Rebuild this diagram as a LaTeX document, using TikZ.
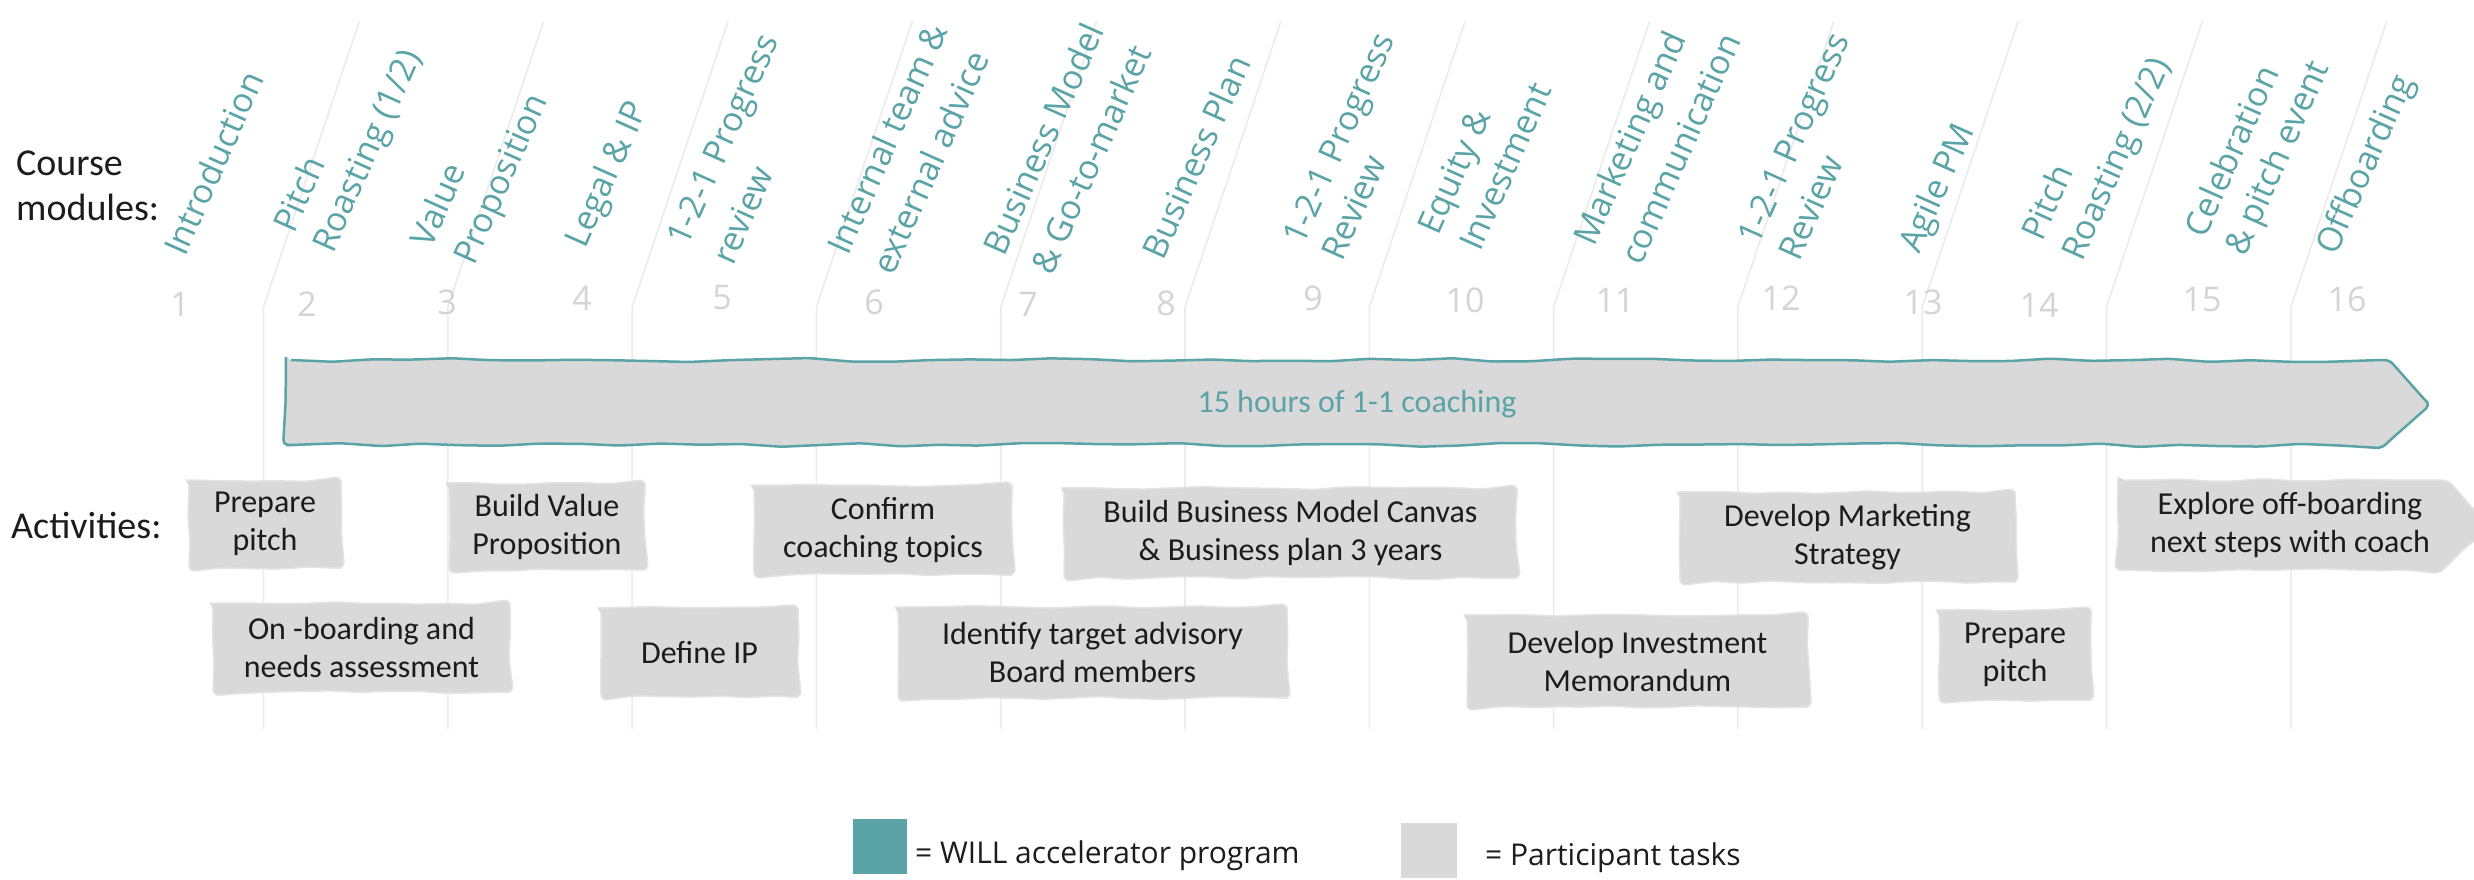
\documentclass[tikz,border=0pt]{standalone}
\usepackage{fontspec}
\setmainfont{Carlito}
\newfontfamily\labelfont{Open Sans}
\usetikzlibrary{decorations.pathmorphing,calc}

\definecolor{willteal}{HTML}{5AA3A6}
\definecolor{taskgrey}{HTML}{D9D9D9}
\definecolor{edgegrey}{HTML}{E4E4E4}
\definecolor{gridgrey}{HTML}{EBEBEB}
\definecolor{numgrey}{HTML}{D4D4D4}
\definecolor{inkblack}{HTML}{1C1C1C}

% a grey task card with a slightly hand-drawn outline, and its centred text
\newcommand\taskbox[4]{%
  \path[taskshape] (#2) rectangle (#3);
  \node[tasktext] (#1) at ($(#2)!.5!(#3)$) {#4};
}

\begin{document}
\begin{tikzpicture}[x=1pt,y=-1pt,
  gridline/.style={draw=gridgrey, line width=1.6pt},
  modnum/.style={text=numgrey, font=\labelfont\fontsize{34}{34}\selectfont, inner sep=0},
  modlbl/.style={text=willteal, font=\labelfont\fontsize{34}{40}\selectfont,
                 rotate=66, anchor=base west, inner sep=0},
  rowlbl/.style={text=inkblack, font=\fontsize{38}{45}\selectfont, anchor=base west, inner sep=0},
  taskshape/.style={fill=taskgrey, draw=edgegrey, line width=1.5pt,
                    decorate, decoration={random steps, segment length=28pt, amplitude=1.5pt},
                    rounded corners=6pt},
  tasktext/.style={text=inkblack, font=\fontsize{32}{38}\selectfont, align=center, inner sep=0},
  coachbar/.style={fill=taskgrey, draw=willteal, line width=2.5pt,
                   decorate, decoration={random steps, segment length=40pt, amplitude=2pt},
                   rounded corners=5pt},
  legendtext/.style={text=inkblack, font=\labelfont\fontsize{30}{36}\selectfont, anchor=base west, inner sep=0}
]
\pgfmathsetseed{4711}
\useasboundingbox (0,0) rectangle (2474,879);

% week separators: vertical below the numbers, slanted above them
\foreach \k in {0,...,11}{
  \pgfmathsetmacro\gx{263.5+184.3*\k}
  \draw[gridline] (\gx,729) -- (\gx,307) -- (\gx+96,21);
}

% row titles
\node[rowlbl] (course) at (16,175) {Course};
\node[rowlbl] (modules) at (16,220) {modules:};
\node[rowlbl] (activities) at (11,538) {Activities:};

% week numbers
\foreach \n/\x/\y in {1/180/304, 2/307/304, 3/447/302, 4/582/298, 5/722/298, 6/874/302,
                      7/1028/304, 8/1166/303, 9/1313/298, 10/1465/300, 11/1615/300,
                      12/1781/298, 13/1923/302, 14/2039/305, 15/2202/300, 16/2347/299}
  \node[modnum] (n\n) at (\x,\y) {\n};

% module titles
\begin{scope}[xshift=16pt]
\node[modlbl] (m1)   at (169,258)  {Introduction};
\node[modlbl] (m2a)  at (278,235)  {Pitch};
\node[modlbl] (m2b)  at (317,255)  {Roasting (1/2)};
\node[modlbl] (m3a)  at (415,250)  {Value};
\node[modlbl] (m3b)  at (458,267)  {Proposition};
\node[modlbl] (m4)   at (569,250)  {Legal \& IP};
\node[modlbl] (m5a)  at (671,248)  {1-2-1 Progress};
\node[modlbl] (m5b)  at (717,267)  {review};
\node[modlbl] (m6a)  at (832,257)  {Internal team \&};
\node[modlbl] (m6b)  at (877,277)  {external advice};
\node[modlbl] (m7a)  at (988,258)  {Business Model};
\node[modlbl] (m7b)  at (1036,277) {\& Go-to-market};
\node[modlbl] (m8)   at (1147,262) {Business Plan};
\node[modlbl] (m9a)  at (1287,247) {1-2-1 Progress};
\node[modlbl] (m9b)  at (1326,263) {Review};
\node[modlbl] (m10a) at (1422,237) {Equity \&};
\node[modlbl] (m10b) at (1464,253) {Investment};
\node[modlbl] (m11a) at (1578,248) {Marketing and};
\node[modlbl] (m11b) at (1625,267) {communication};
\node[modlbl] (m12a) at (1742,247) {1-2-1 Progress};
\node[modlbl] (m12b) at (1783,263) {Review};
\node[modlbl] (m13)  at (1903,255) {Agile PM};
\node[modlbl] (m14a) at (2026,243) {Pitch};
\node[modlbl] (m14b) at (2066,263) {Roasting (2/2)};
\node[modlbl] (m15a) at (2189,240) {Celebration};
\node[modlbl] (m15b) at (2229,258) {\& pitch event};
\node[modlbl] (m16)  at (2320,257) {Offboarding};
\end{scope}

% coaching bar running over weeks 2-16
\path[coachbar] (286,360) -- (2385,360) -- (2428,403) -- (2385,445) -- (286,445) -- cycle;
\node[text=willteal, font=\fontsize{32}{38}\selectfont, inner sep=0] (coach) at (1357,404)
  {15 hours of 1-1 coaching};

% participant activities
\taskbox{a1}{189,480}{341,568}{Prepare\\pitch}
\taskbox{a2}{449,483}{645,570}{Build Value\\Proposition}
\taskbox{a3}{213,603}{510,692}{On -boarding and\\needs assessment}
\taskbox{a4}{601,608}{798,697}{Define IP}
\taskbox{a5}{754,485}{1012,575}{Confirm\\coaching topics}
\taskbox{a6}{1064,488}{1517,578}{Build Business Model Canvas\\\& Business plan 3 years}
\taskbox{a7}{898,607}{1287,698}{Identify target advisory\\Board members}
\taskbox{a8}{1467,615}{1808,707}{Develop Investment\\Memorandum}
\taskbox{a9}{1680,492}{2015,582}{Develop Marketing\\Strategy}
\taskbox{a10}{1939,610}{2091,700}{Prepare\\pitch}

% last activity points onward, past the right edge
\begin{scope}
  \clip (0,0) rectangle (2474,879);
  \path[taskshape] (2118,480) -- (2443,480) -- (2490,525) -- (2443,570) -- (2118,570) -- cycle;
\end{scope}
\node[tasktext] (a11) at (2290,525) {Explore off-boarding\\next steps with coach};

% legend
\node[fill=willteal, minimum width=54pt, minimum height=55pt, inner sep=0] (keyprog) at (880,846.5) {};
\node[legendtext] (keyprogtxt) at (915,863) {= WILL accelerator program};
\node[fill=taskgrey, minimum width=56pt, minimum height=55pt, inner sep=0] (keytask) at (1429,850.5) {};
\node[legendtext] (keytasktxt) at (1485,865) {= Participant tasks};
\end{tikzpicture}
\end{document}
